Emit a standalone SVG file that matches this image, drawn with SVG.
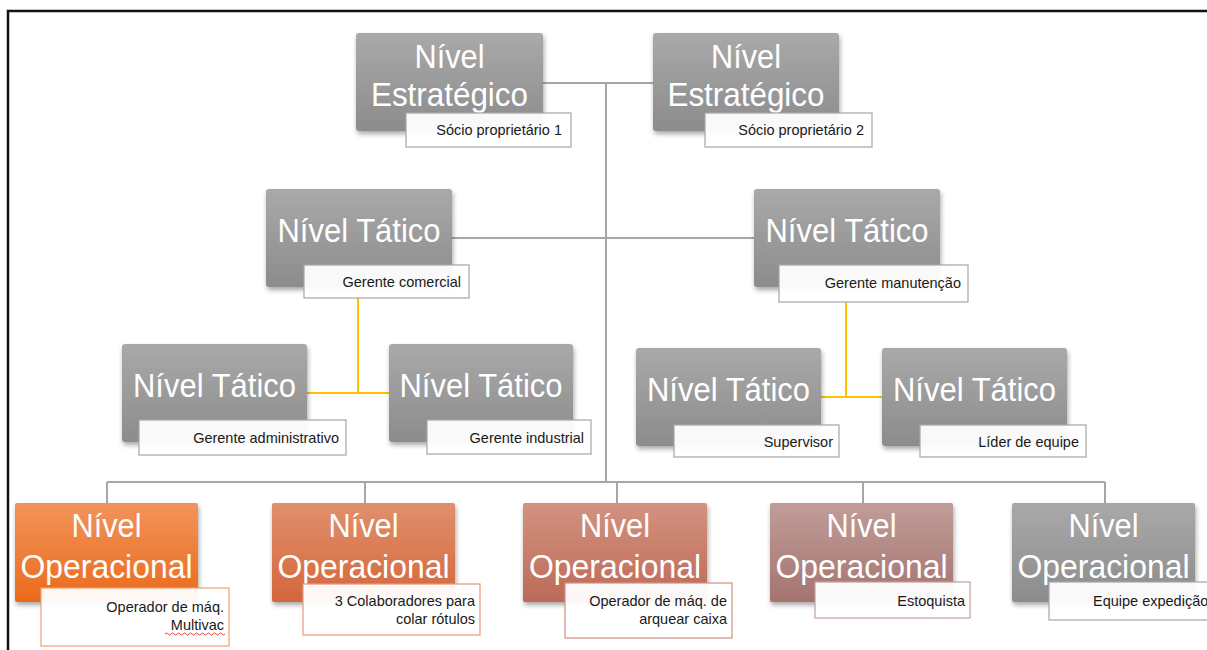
<svg xmlns="http://www.w3.org/2000/svg" width="1207" height="650" viewBox="0 0 1207 650">
  <defs>
    <linearGradient id="gGray" x1="0" y1="0" x2="0" y2="1">
      <stop offset="0" stop-color="#a9a9a9"/>
      <stop offset="1" stop-color="#8c8c8c"/>
    </linearGradient>
    <linearGradient id="gOp1" x1="0" y1="0" x2="0" y2="1">
      <stop offset="0" stop-color="#f2935a"/>
      <stop offset="1" stop-color="#ea6a1c"/>
    </linearGradient>
    <linearGradient id="gOp2" x1="0" y1="0" x2="0" y2="1">
      <stop offset="0" stop-color="#e1906c"/>
      <stop offset="1" stop-color="#d3663c"/>
    </linearGradient>
    <linearGradient id="gOp3" x1="0" y1="0" x2="0" y2="1">
      <stop offset="0" stop-color="#d3927f"/>
      <stop offset="1" stop-color="#bd6a58"/>
    </linearGradient>
    <linearGradient id="gOp4" x1="0" y1="0" x2="0" y2="1">
      <stop offset="0" stop-color="#c09c98"/>
      <stop offset="1" stop-color="#a47470"/>
    </linearGradient>
    <filter id="shadow" x="-10%" y="-10%" width="125%" height="130%">
      <feGaussianBlur in="SourceAlpha" stdDeviation="2.5"/>
      <feOffset dx="1" dy="3" result="b"/>
      <feComponentTransfer><feFuncA type="linear" slope="0.35"/></feComponentTransfer>
      <feMerge><feMergeNode/><feMergeNode in="SourceGraphic"/></feMerge>
    </filter>
    <style>
      .box { filter: url(#shadow); }
      .gray { fill: url(#gGray); }
      .title { font-family: "Liberation Sans", Arial, sans-serif; fill: #ffffff; text-anchor: middle; }
      .big { font-size: 33px; }
      .lbl { fill: #ffffff; fill-opacity: 0.95; stroke-width: 1.2; }
      .lg { stroke: #a6a6a6; }
      .sub { font-family: "Liberation Sans", Arial, sans-serif; font-size: 14.5px; fill: #1a1a1a; text-anchor: end; }
      .main { stroke: #a6a6a6; stroke-width: 2; fill: none; }
      .gold { stroke: #ffc000; stroke-width: 2; fill: none; }
    </style>
  </defs>

  <rect width="1207" height="650" fill="#ffffff"/>
  <!-- page frame -->
  <path d="M8 650 V11 H1207" fill="none" stroke="#111111" stroke-width="2.5"/>

  <!-- connectors -->
  <g id="connectors">
    <path class="main" d="M543 83 H653"/>
    <path class="main" d="M606 83 V482"/>
    <path class="main" d="M452 238 H754"/>
    <path class="main" d="M107 482 H1105"/>
    <path class="main" d="M107 482 V503 M365 482 V503 M617 482 V503 M863 482 V503 M1105 482 V503"/>
    <path class="gold" d="M358 298 V393 M307 393 H389"/>
    <path class="gold" d="M846 302 V397 M821 397 H882"/>
  </g>

  <!-- strategic level -->
  <g id="estrategico-1">
    <rect class="box gray" x="356" y="33" width="187" height="98" rx="3"/>
    <text class="title big" x="449.5" y="68" textLength="70" lengthAdjust="spacingAndGlyphs">Nível</text>
    <text class="title big" x="449.5" y="106" textLength="157" lengthAdjust="spacingAndGlyphs">Estratégico</text>
    <rect class="lbl lg" x="406" y="113" width="165" height="34"/>
    <text class="sub" x="562" y="135">Sócio proprietário 1</text>
  </g>
  <g id="estrategico-2">
    <rect class="box gray" x="653" y="33" width="186" height="98" rx="3"/>
    <text class="title big" x="746" y="68" textLength="70" lengthAdjust="spacingAndGlyphs">Nível</text>
    <text class="title big" x="746" y="106" textLength="157" lengthAdjust="spacingAndGlyphs">Estratégico</text>
    <rect class="lbl lg" x="705" y="113" width="167" height="34"/>
    <text class="sub" x="864" y="135">Sócio proprietário 2</text>
  </g>

  <!-- tactical level -->
  <g id="tatico-comercial">
    <rect class="box gray" x="266" y="189" width="186" height="98" rx="3"/>
    <text class="title big" x="359" y="242" textLength="163" lengthAdjust="spacingAndGlyphs">Nível Tático</text>
    <rect class="lbl lg" x="304" y="265" width="165" height="33"/>
    <text class="sub" x="461" y="287">Gerente comercial</text>
  </g>
  <g id="tatico-manutencao">
    <rect class="box gray" x="754" y="189" width="186" height="98" rx="3"/>
    <text class="title big" x="847" y="242" textLength="163" lengthAdjust="spacingAndGlyphs">Nível Tático</text>
    <rect class="lbl lg" x="779" y="265" width="189" height="37"/>
    <text class="sub" x="961" y="288">Gerente manutenção</text>
  </g>
  <g id="tatico-administrativo">
    <rect class="box gray" x="122" y="344" width="185" height="98" rx="3"/>
    <text class="title big" x="214.5" y="397" textLength="163" lengthAdjust="spacingAndGlyphs">Nível Tático</text>
    <rect class="lbl lg" x="139" y="420" width="207" height="35"/>
    <text class="sub" x="339" y="443">Gerente administrativo</text>
  </g>
  <g id="tatico-industrial">
    <rect class="box gray" x="389" y="344" width="184" height="98" rx="3"/>
    <text class="title big" x="481" y="397" textLength="163" lengthAdjust="spacingAndGlyphs">Nível Tático</text>
    <rect class="lbl lg" x="427" y="420" width="164" height="34"/>
    <text class="sub" x="584" y="443">Gerente industrial</text>
  </g>
  <g id="tatico-supervisor">
    <rect class="box gray" x="636" y="348" width="185" height="98" rx="3"/>
    <text class="title big" x="728.5" y="401" textLength="163" lengthAdjust="spacingAndGlyphs">Nível Tático</text>
    <rect class="lbl lg" x="674" y="425" width="165" height="32"/>
    <text class="sub" x="833" y="447">Supervisor</text>
  </g>
  <g id="tatico-lider">
    <rect class="box gray" x="882" y="348" width="185" height="98" rx="3"/>
    <text class="title big" x="974.5" y="401" textLength="163" lengthAdjust="spacingAndGlyphs">Nível Tático</text>
    <rect class="lbl lg" x="920" y="425" width="166" height="32"/>
    <text class="sub" x="1079" y="447">Líder de equipe</text>
  </g>

  <!-- operational level -->
  <g id="operacional-multivac">
    <rect class="box" x="15" y="503" width="183" height="99" fill="url(#gOp1)" rx="2"/>
    <text class="title big" x="106.5" y="537" textLength="70" lengthAdjust="spacingAndGlyphs">Nível</text>
    <text class="title big" x="106.5" y="578" textLength="172" lengthAdjust="spacingAndGlyphs">Operacional</text>
    <rect class="lbl" x="41" y="588" width="188" height="58" stroke="#f2a070"/>
    <text class="sub" x="224" y="612">Operador de máq.</text>
    <text class="sub" x="224" y="630">Multivac</text>
    <path d="M165 634 q1.5 -2 3 0 t3 0 t3 0 t3 0 t3 0 t3 0 t3 0 t3 0 t3 0 t3 0 t3 0 t3 0 t3 0 t3 0 t3 0 t3 0 t3 0 t3 0 t3 0 t3 0" fill="none" stroke="#e03030" stroke-width="0.9"/>
  </g>
  <g id="operacional-rotulos">
    <rect class="box" x="272" y="503" width="183" height="99" fill="url(#gOp2)" rx="2"/>
    <text class="title big" x="363.5" y="537" textLength="70" lengthAdjust="spacingAndGlyphs">Nível</text>
    <text class="title big" x="363.5" y="578" textLength="172" lengthAdjust="spacingAndGlyphs">Operacional</text>
    <rect class="lbl" x="303" y="584" width="177" height="51" stroke="#e69a78"/>
    <text class="sub" x="475" y="606">3 Colaboradores para</text>
    <text class="sub" x="475" y="624">colar rótulos</text>
  </g>
  <g id="operacional-arquear">
    <rect class="box" x="523" y="503" width="184" height="99" fill="url(#gOp3)" rx="2"/>
    <text class="title big" x="615" y="537" textLength="70" lengthAdjust="spacingAndGlyphs">Nível</text>
    <text class="title big" x="615" y="578" textLength="172" lengthAdjust="spacingAndGlyphs">Operacional</text>
    <rect class="lbl" x="565" y="583" width="167" height="55" stroke="#d09282"/>
    <text class="sub" x="727" y="606">Operador de máq. de</text>
    <text class="sub" x="727" y="624">arquear caixa</text>
  </g>
  <g id="operacional-estoquista">
    <rect class="box" x="770" y="503" width="183" height="99" fill="url(#gOp4)" rx="2"/>
    <text class="title big" x="861.5" y="537" textLength="70" lengthAdjust="spacingAndGlyphs">Nível</text>
    <text class="title big" x="861.5" y="578" textLength="172" lengthAdjust="spacingAndGlyphs">Operacional</text>
    <rect class="lbl" x="815" y="582" width="155" height="36" stroke="#c4a09c"/>
    <text class="sub" x="965" y="606">Estoquista</text>
  </g>
  <g id="operacional-expedicao">
    <rect class="box gray" x="1012" y="503" width="183" height="99" rx="2"/>
    <text class="title big" x="1103.5" y="537" textLength="70" lengthAdjust="spacingAndGlyphs">Nível</text>
    <text class="title big" x="1103.5" y="578" textLength="172" lengthAdjust="spacingAndGlyphs">Operacional</text>
    <rect class="lbl lg" x="1049" y="582" width="170" height="38"/>
    <text class="sub" x="1093" y="606" style="text-anchor: start">Equipe expedição</text>
  </g>
</svg>
